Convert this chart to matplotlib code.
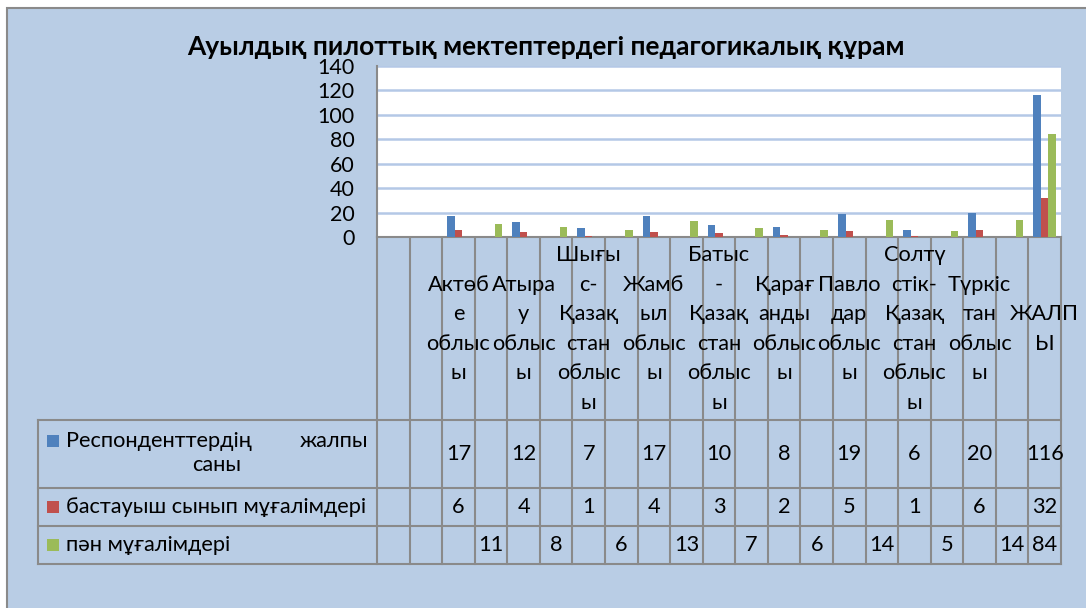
import matplotlib
matplotlib.use("Agg")
import matplotlib.pyplot as plt
import matplotlib.transforms as mtransforms
from matplotlib.patches import Rectangle
import numpy as np

plt.rcParams['font.family'] = ['Lato', 'DejaVu Sans']

title = 'Ауылдық пилоттық мектептердегі педагогикалық құрам'

# category labels, wrapped as in the original sheet
categories = ['', '', 'Актөб\nе\nоблыс\nы', '', 'Атыра\nу\nоблыс\nы', '',
              'Шығы\nс-\nҚазақ\nстан\nоблыс\nы', '', 'Жамб\nыл\nоблыс\nы', '',
              'Батыс\n-\nҚазақ\nстан\nоблыс\nы', '', 'Қарағ\nанды\nоблыс\nы', '',
              'Павло\nдар\nоблыс\nы', '', 'Солтү\nстік-\nҚазақ\nстан\nоблыс\nы', '',
              'Түркіс\nтан\nоблыс\nы', '', 'ЖАЛП\nЫ']

N = None
respondents = [N, N, 17, N, 12, N, 7, N, 17, N, 10, N, 8, N, 19, N, 6, N, 20, N, 116]
primary = [N, N, 6, N, 4, N, 1, N, 4, N, 3, N, 2, N, 5, N, 1, N, 6, N, 32]
subject = [N, N, N, 11, N, 8, N, 6, N, 13, N, 7, N, 6, N, 14, N, 5, N, 14, 84]

series_names = ['Респонденттердің жалпы саны', 'бастауыш сынып мұғалімдері', 'пән мұғалімдері']
colors = ['#4f81bd', '#c0504d', '#9bbb59']
yticks = [0, 20, 40, 60, 80, 100, 120, 140]

W, H = 1086, 608
fs = 15.7
fig = plt.figure(figsize=(W / 100, H / 100), dpi=100)
fig.patch.set_facecolor('white')

# full figure axes in pixel units, for background and table
tab = fig.add_axes([0, 0, 1, 1])
tab.set_xlim(0, W)
tab.set_ylim(H, 0)
tab.axis('off')
tab.add_patch(Rectangle((7, 8), W + 20, H + 20, fc='#b9cde5', ec='#8a8a8a', lw=1.5, zorder=0))

# bar chart
pl, pr, pt, pb = 377, 1061, 66, 237
ax = fig.add_axes([pl / W, 1 - pb / H, (pr - pl) / W, (pb - pt) / H])
ax.set_zorder(2)
ax.set_facecolor('white')

x = np.arange(len(categories))
bw = 0.23
for k, vals in enumerate([respondents, primary, subject]):
    v = np.array(vals, dtype=float)
    ax.bar(x + (k - 1) * bw, v, bw, color=colors[k], zorder=3)

ax.set_xlim(-0.5, len(categories) - 0.5)
ax.set_ylim(0, 140)
ax.set_yticks(yticks)
ax.set_xticks([])
ax.tick_params(axis='y', length=0, pad=16, labelsize=15.5)
ax.yaxis.grid(True, color='#b4c8e6', lw=1.8, zorder=0)
for s in ['top', 'right']:
    ax.spines[s].set_visible(False)
ax.spines['left'].set_color('#8a8a8a')
ax.spines['bottom'].set_color('#8a8a8a')
ax.spines['left'].set_linewidth(1.5)
ax.spines['bottom'].set_linewidth(1.5)

fig.text(546 / W, 1 - 47 / H, title, ha='center', va='center', fontsize=19, fontweight='bold')

# data table under the axis: x from category index, y in pixels
tr = mtransforms.blended_transform_factory(ax.transData, tab.transData)
lc = '#8a8a8a'
rows = [420, 488, 526, 564]
left = 38
n = len(categories)
for i in range(n + 1):
    tab.plot([i - 0.5, i - 0.5], [pb, rows[-1]], color=lc, lw=1.5, transform=tr, zorder=1)
for y in rows:
    tab.plot([left, pr], [y, y], color=lc, lw=1.5, zorder=1)
tab.plot([left, left], [rows[0], rows[-1]], color=lc, lw=1.5, zorder=1)

for i, lab in enumerate(categories):
    if lab:
        tab.text(i, 329, lab, transform=tr, ha='center', va='center',
                 fontsize=fs, linespacing=1.6)

for r, vals in enumerate([respondents, primary, subject]):
    yc = (rows[r] + rows[r + 1]) / 2
    for i, v in enumerate(vals):
        if v is not None:
            tab.text(i, yc, str(v), transform=tr, ha='center', va='center', fontsize=fs)

# legend keys in the table's first column
for r, name in enumerate(series_names):
    if r == 0:
        ky = 441
        w = name.split()
        tab.text(66, 441, w[0], ha='left', va='center', fontsize=fs)
        tab.text(368, 441, w[1], ha='right', va='center', fontsize=fs)
        tab.text(217, 465, w[2], ha='center', va='center', fontsize=fs)
    else:
        ky = (rows[r] + rows[r + 1]) / 2
        tab.text(66, ky, name, ha='left', va='center', fontsize=fs)
    tab.add_patch(Rectangle((47, ky - 6), 12, 12, fc=colors[r], ec='none', zorder=2))

fig.savefig('out.png', dpi=100)
